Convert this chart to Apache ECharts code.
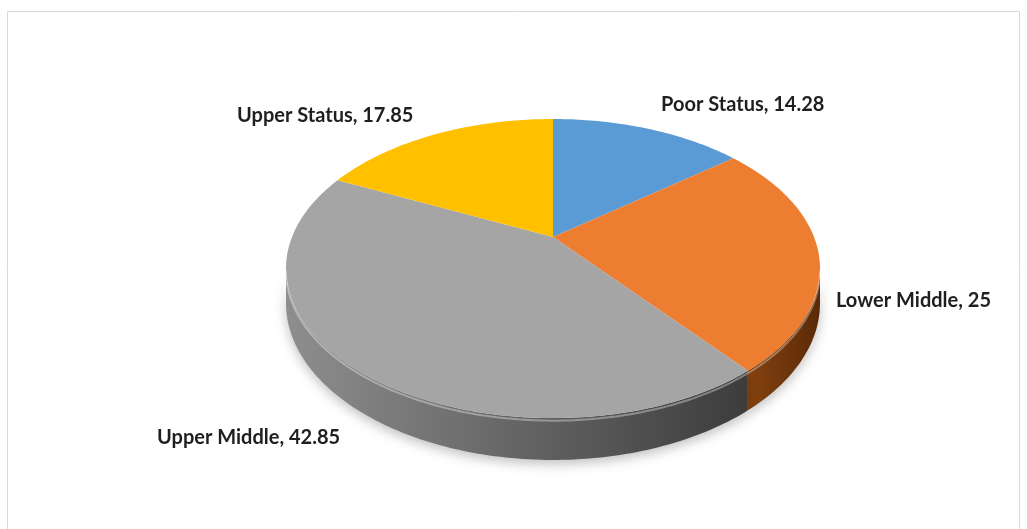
<!DOCTYPE html>
<html>
<head>
<meta charset="utf-8">
<script src="https://cdn.jsdelivr.net/npm/echarts@6/dist/echarts.min.js"></script>
<style>
html,body{margin:0;padding:0;background:#fff;}
#chart{width:1027px;height:529px;}
</style>
</head>
<body>
<div id="chart"></div>
<script>
// ---- data ----
const categories = ['Poor Status', 'Lower Middle', 'Upper Middle', 'Upper Status'];
const values = [14.28, 25, 42.85, 17.85];

// ---- style / layout ----
const topColors = ['#5B9BD5', '#ED7D31', '#A5A5A5', '#FFC000'];
const sideColors = [
  ['#3f6f9e', '#2e5478'],
  ['#86420f', '#5a2a08'],
  ['#8e8e8e', '#3c3c3c'],
  ['#b88a00', '#8a6700']
];
const labelPos = [[661, 105], [836, 301], [157, 438], [237, 116]];

const CX = 553, CY = 237;      // apex of the pie on screen
const R = 261, RE = 142.9;     // horizontal / vertical radius factors
const PERSP = 0.211;           // perspective strength
const DEPTH = 33;              // thickness of the pie
const SIL = Math.acos(-PERSP) * 180 / Math.PI; // silhouette angles
const SIL0 = SIL, SIL1 = 360 - SIL;

function proj(deg, drop) {
  const t = deg * Math.PI / 180;
  const u = Math.sin(t), v = Math.cos(t);
  const s = 1 / (1 + PERSP * v);
  return [CX + R * u * s, CY - RE * v * s + drop * s];
}
function rim(a0, a1, drop) {
  const pts = [];
  const n = Math.max(2, Math.ceil(Math.abs(a1 - a0)));
  for (let i = 0; i <= n; i++) pts.push(proj(a0 + (a1 - a0) * i / n, drop));
  return pts;
}
const total = values.reduce((a, b) => a + b, 0);
const starts = [];
{ let acc = 0; values.forEach(v => { starts.push(acc / total * 360); acc += v; }); }

const seriesData = values.map((v, i) => ({ name: categories[i], value: v }));

const chart = echarts.init(document.getElementById('chart'), null, { renderer: 'canvas' });

const option = {
  backgroundColor: '#ffffff',
  animation: false,
  graphic: [
    {
      type: 'rect', z: 0, silent: true,
      shape: { x: 7.5, y: 11.5, width: 1012, height: 530 },
      style: { fill: 'none', stroke: '#d9d9d9', lineWidth: 1 }
    }
  ].concat(labelPos.map((p, i) => ({
    type: 'text', z: 10, silent: true,
    x: p[0], y: p[1],
    style: {
      text: categories[i] + ', ' + values[i],
      fill: '#1f1f1f',
      font: 'bold 20px Lato',
      textVerticalAlign: 'middle',
      textAlign: 'left'
    }
  }))),
  series: [
    {
      type: 'custom',
      coordinateSystem: 'none',
      z: 1,
      silent: true,
      data: seriesData,
      renderItem: function (params, api) {
        const i = params.dataIndex;
        const a0 = starts[i];
        const a1 = a0 + api.value(0) / total * 360;
        const b0 = Math.max(a0, SIL0), b1 = Math.min(a1, SIL1);
        if (b1 <= b0) return { type: 'group', children: [] };
        const top = rim(b0, b1, 0);
        const bot = rim(b1, b0, DEPTH);
        return {
          type: 'polygon',
          shape: { points: top.concat(bot) },
          style: {
            fill: new echarts.graphic.LinearGradient(0, 0, 1, 0, [
              { offset: 0, color: sideColors[i][0] },
              { offset: 1, color: sideColors[i][1] }
            ]),
            shadowBlur: 12,
            shadowColor: 'rgba(0,0,0,0.25)',
            shadowOffsetY: 4
          }
        };
      }
    },
    {
      type: 'custom',
      coordinateSystem: 'none',
      z: 2,
      silent: true,
      data: seriesData,
      renderItem: function (params, api) {
        const i = params.dataIndex;
        const a0 = starts[i];
        const a1 = a0 + api.value(0) / total * 360;
        const pts = [[CX, CY]].concat(rim(a0, a1, 0));
        const children = [{
          type: 'polygon',
          shape: { points: pts },
          style: { fill: topColors[i] }
        }];
        const b0 = Math.max(a0, SIL0), b1 = Math.min(a1, SIL1);
        if (b1 > b0) {
          children.push({
            type: 'polyline',
            shape: { points: rim(b0, b1, 2) },
            style: { stroke: 'rgba(255,255,255,0.35)', lineWidth: 2, fill: null }
          });
        }
        return { type: 'group', children: children };
      }
    }
  ]
};
chart.setOption(option);
</script>
</body>
</html>
